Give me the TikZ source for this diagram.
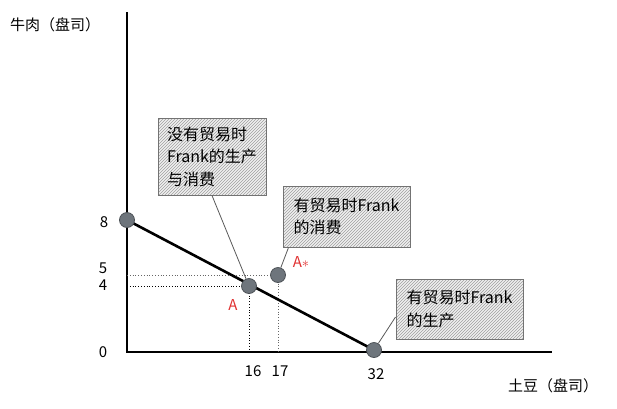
\documentclass[tikz,border=0pt]{standalone}
\usepackage{fontspec}
\setmainfont{Noto Sans CJK SC}
\usetikzlibrary{patterns}
\definecolor{dotgray}{HTML}{6E757C}
\definecolor{markred}{HTML}{E03131}
\begin{document}
\begin{tikzpicture}[x = 1pt, y = -1pt,
        every node/.style={inner sep=0pt, font=\fontsize{15}{18}\selectfont},
        every path/.style={thick}
]
\tikzstyle{dot}= [circle, draw=dotgray!70!black, fill=dotgray, minimum size=15pt, line width=0.8pt]
\tikzstyle{note}= [draw=gray!90!black, line width=1pt, preaction={fill=gray!12}, pattern=north east lines, pattern color=gray!75, align=left, font=\fontsize{16}{22.5}\selectfont]
\tikzstyle{leader}= [gray!70!black, line width=0.8pt]
    \useasboundingbox (0,0) rectangle (617,408);
    % axes
    \coordinate (ytop) at (127,12);
    \coordinate (origin) at (127,352);
    \coordinate (xend) at (552,352);
    \draw[line width=1.4pt] (ytop) -- (origin) -- (xend);
    \node (ylab) at (55,25) {牛肉（盘司）};
    \node (xlab) at (553,386) {土豆（盘司）};
    % tick labels
    \node (t8) at (104,222) {8};
    \node (t5) at (103,268) {5};
    \node (t4) at (103,285) {4};
    \node (t0) at (103,352) {0};
    \node (t16) at (253,371) {16};
    \node (t17) at (280,371) {17};
    \node (t32) at (376,374) {32};
    % points
    \coordinate (pA) at (249,286);
    \coordinate (pAs) at (278,275);
    \coordinate (p8) at (127,220);
    \coordinate (p32) at (374,350);
    \draw[dotted, line width=1pt] (origin|-pA) -- (pA) -- (pA|-origin);
    \draw[dotted, line width=0.8pt, gray!80!black] (origin|-pAs) -- (pAs) -- (pAs|-origin);
    \draw[line width=2.6pt] (p8) -- (p32);
    \node[dot] (A) at (pA) {};
    \node[dot] (As) at (pAs) {};
    \node[dot] (E8) at (p8) {};
    \node[dot] (E32) at (p32) {};
    \node[text=markred] (labA) at (233,305) {A};
    \node[text=markred] (labAs) at (301,262) {A$\ast$};
    % notes
    \node[note, minimum width=108pt, minimum height=77pt] (n1) at (212,156.5) {没有贸易时\\Frank的生产\\与消费};
    \node[note, minimum width=127pt, minimum height=61pt] (n2) at (346.5,216.5) {有贸易时Frank\\的消费};
    \node[note, minimum width=127pt, minimum height=60pt] (n3) at (459.5,309) {有贸易时Frank\\的生产};
    \draw[leader] (n1.south) -- (A);
    \draw[leader] ([xshift=6pt]n2.south west) -- (As);
    \draw[leader] ([yshift=-8pt]n3.west) -- (E32);
\end{tikzpicture}
\end{document}
